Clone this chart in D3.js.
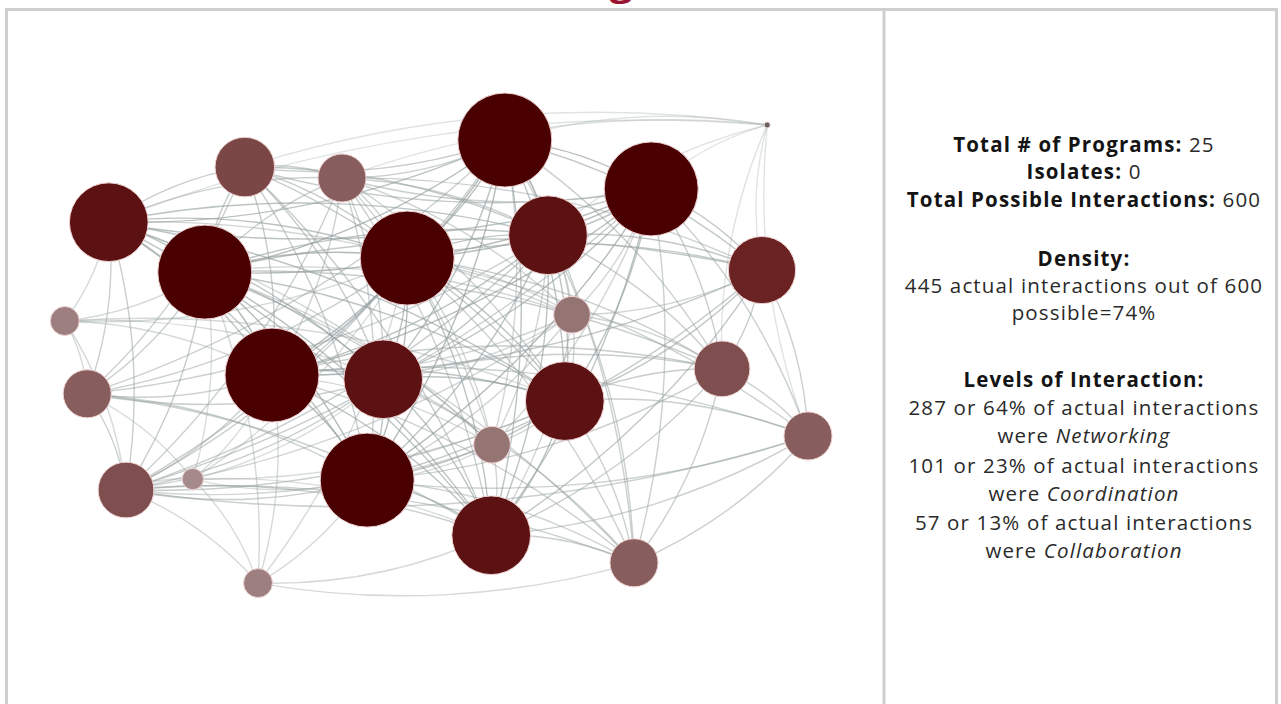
<!DOCTYPE html>
<html>
<head>
<meta charset="utf-8">
<script src="https://cdn.jsdelivr.net/npm/d3@7"></script>
<style>
  body { margin: 0; background: #fff; }
  svg { display: block; font-family: "Open Sans", sans-serif; }
</style>
</head>
<body>
<script>
// Network layout coordinates (0-100 space) and degree of each program
var nodeX = [58.1, 76.4, 8.6, 20.6, 25.6, 37.75, 45.9, 63.5, 90.25, 3.1, 66.5, 29.0, 42.9,
             65.6, 85.25, 5.9, 96.0, 56.5, 40.9, 10.75, 19.1, 56.4, 74.25, 27.25, 90.9];
var nodeY = [7.7, 17.1, 23.5, 33.1, 12.9, 15.0, 30.4, 26.0, 32.7, 42.5, 41.3, 52.9, 53.7,
             57.9, 51.7, 56.5, 64.6, 66.3, 73.1, 75.0, 72.9, 83.7, 89.0, 92.9, 4.8];
var nodeDegree = [24, 24, 20, 24, 15, 12, 24, 20, 17, 7, 9, 24, 20,
                  20, 14, 12, 12, 9, 24, 14, 5, 20, 12, 7, 1];

// Ties: for each program, the higher-numbered programs it interacts with
var nodeLinks = [
  [1, 2, 3, 4, 5, 6, 7, 8, 10, 11, 12, 13, 14, 15, 17, 18, 19, 21, 22, 24],
  [2, 3, 4, 5, 6, 7, 8, 10, 11, 12, 13, 14, 16, 17, 18, 19, 21, 22, 24],
  [3, 4, 5, 6, 7, 9, 10, 11, 12, 13, 15, 17, 18, 19, 21, 24],
  [4, 5, 6, 7, 8, 9, 10, 11, 12, 13, 14, 15, 17, 18, 19, 20, 21, 22, 23],
  [5, 6, 7, 11, 12, 13, 15, 18, 21, 24],
  [6, 7, 8, 10, 11, 12, 13, 17, 18, 19, 21, 24],
  [7, 8, 9, 10, 11, 12, 13, 14, 15, 16, 17, 18, 19, 20, 21, 22, 23],
  [8, 10, 11, 12, 13, 14, 15, 17, 18, 19, 21, 22, 24],
  [10, 11, 13, 14, 16, 18, 21, 24],
  [11, 12, 13, 15, 19],
  [11, 12, 13, 14, 18, 19, 21],
  [12, 13, 14, 15, 16, 17, 18, 19, 20, 21, 22, 23],
  [13, 14, 15, 17, 18, 19, 20, 21, 22],
  [14, 16, 17, 18, 19, 20, 21, 22],
  [16, 18, 21, 22, 24],
  [18, 19, 20, 21],
  [18, 19, 21, 22, 24],
  [18, 19, 21],
  [19, 20, 21, 22, 23],
  [20, 21, 22, 23],
  [21, 23],
  [22, 23],
  [23],
  [],
  []
];

// Summary figures
var titleText = "Network Interactions Among All 25 Member Institutions";
var totalPrograms = 25;
var isolates = 0;
var possibleInteractions = 600;
var actualInteractions = 445;
var levelNames = ["Networking", "Coordination", "Collaboration"];
var levelCounts = [287, 101, 57];

var svgWidth = 1281;
var svgHeight = 704;

var svg = d3.select("body")
  .append("svg")
  .attr("width", svgWidth)
  .attr("height", svgHeight);

// Title (sits mostly above the visible area, as in the original crop)
svg.append("text")
  .attr("x", 612)
  .attr("y", -4)
  .attr("text-anchor", "middle")
  .style("font-size", "34px")
  .style("font-weight", "bold")
  .style("fill", "#9b1230")
  .attr("textLength", 1135)
  .attr("lengthAdjust", "spacingAndGlyphs")
  .text(titleText);

// Frame and divider
svg.append("rect")
  .attr("x", 6.5).attr("y", 9.5)
  .attr("width", 1270).attr("height", 720)
  .attr("fill", "none")
  .attr("stroke", "#cfcfcf")
  .attr("stroke-width", 3);
svg.append("line")
  .attr("x1", 884).attr("x2", 884)
  .attr("y1", 9).attr("y2", svgHeight)
  .attr("stroke", "#cfcfcf")
  .attr("stroke-width", 3);

// Scales
var xScale = d3.scaleLinear().domain([0, 100]).range([40, 840]);
var yScale = d3.scaleLinear().domain([0, 100]).range([100, 620]);
var rScale = d3.scaleLinear().domain([1, 24]).range([3, 47]);
var colorScale = d3.scaleLinear()
  .domain([1, 5, 9, 15, 17, 20, 24])
  .range(["#666060", "#a48a8a", "#957474", "#7a4646", "#6a2222", "#5c1212", "#4a0000"]);
var edgeOpacity = d3.scaleLinear().domain([1, 24]).range([0.3, 0.72]).clamp(true);

var nodes = nodeX.map(function (d, i) {
  return { id: i, x: xScale(nodeX[i]), y: yScale(nodeY[i]), degree: nodeDegree[i] };
});

var links = [];
nodeLinks.forEach(function (targets, s) {
  targets.forEach(function (t) {
    links.push({ source: nodes[s], target: nodes[t] });
  });
});

function arcPath(d) {
  var dx = d.target.x - d.source.x,
      dy = d.target.y - d.source.y,
      dr = Math.sqrt(dx * dx + dy * dy) * 2.2;
  return "M" + d.source.x + "," + d.source.y +
    "A" + dr + "," + dr + " 0 0,1 " + d.target.x + "," + d.target.y;
}

var chart = svg.append("g");

chart.selectAll("path.link")
  .data(links)
  .enter().append("path")
  .attr("class", "link")
  .attr("d", arcPath)
  .attr("fill", "none")
  .attr("stroke", "#98a2a2")
  .attr("stroke-width", 1.4)
  .attr("stroke-opacity", function (d) {
    return edgeOpacity(Math.min(d.source.degree, d.target.degree));
  });

chart.selectAll("circle")
  .data(nodes)
  .enter().append("circle")
  .attr("cx", function (d) { return d.x; })
  .attr("cy", function (d) { return d.y; })
  .attr("r", function (d) { return rScale(d.degree); })
  .attr("fill", function (d) { return colorScale(d.degree); })
  .attr("stroke", "#efd2d2")
  .attr("stroke-width", 1);

// Right panel text
function pct(a, b) { return Math.round(a / b * 100) + "%"; }

var panelLines = [
  { y: 152, parts: [{ t: "Total # of Programs: ", w: "bold" }, { t: String(totalPrograms) }] },
  { y: 179, parts: [{ t: "Isolates: ", w: "bold" }, { t: String(isolates) }] },
  { y: 207, parts: [{ t: "Total Possible Interactions: ", w: "bold" }, { t: String(possibleInteractions) }] },
  { y: 266, parts: [{ t: "Density:", w: "bold" }] },
  { y: 293, parts: [{ t: actualInteractions + " actual interactions out of " + possibleInteractions }] },
  { y: 320, parts: [{ t: "possible=" + pct(actualInteractions, possibleInteractions) }] },
  { y: 387, parts: [{ t: "Levels of Interaction:", w: "bold" }] }
];
levelNames.forEach(function (name, i) {
  panelLines.push({ y: 415 + i * 57.5, parts: [{ t: levelCounts[i] + " or " + pct(levelCounts[i], actualInteractions) + " of actual interactions" }] });
  panelLines.push({ y: 443 + i * 57.5, parts: [{ t: "were " }, { t: name, s: "italic" }] });
});

var panel = svg.append("g");
panelLines.forEach(function (line) {
  var txt = panel.append("text")
    .attr("x", 1084)
    .attr("y", line.y)
    .attr("text-anchor", "middle")
    .style("font-size", "20.5px")
    .style("letter-spacing", "1.15px")
    .style("fill", "#262626");
  line.parts.forEach(function (p) {
    txt.append("tspan")
      .style("font-weight", p.w || "normal")
      .style("font-style", p.s || "normal")
      .style("fill", p.w ? "#141414" : "#2a2a2a")
      .text(p.t);
  });
});
</script>
</body>
</html>
